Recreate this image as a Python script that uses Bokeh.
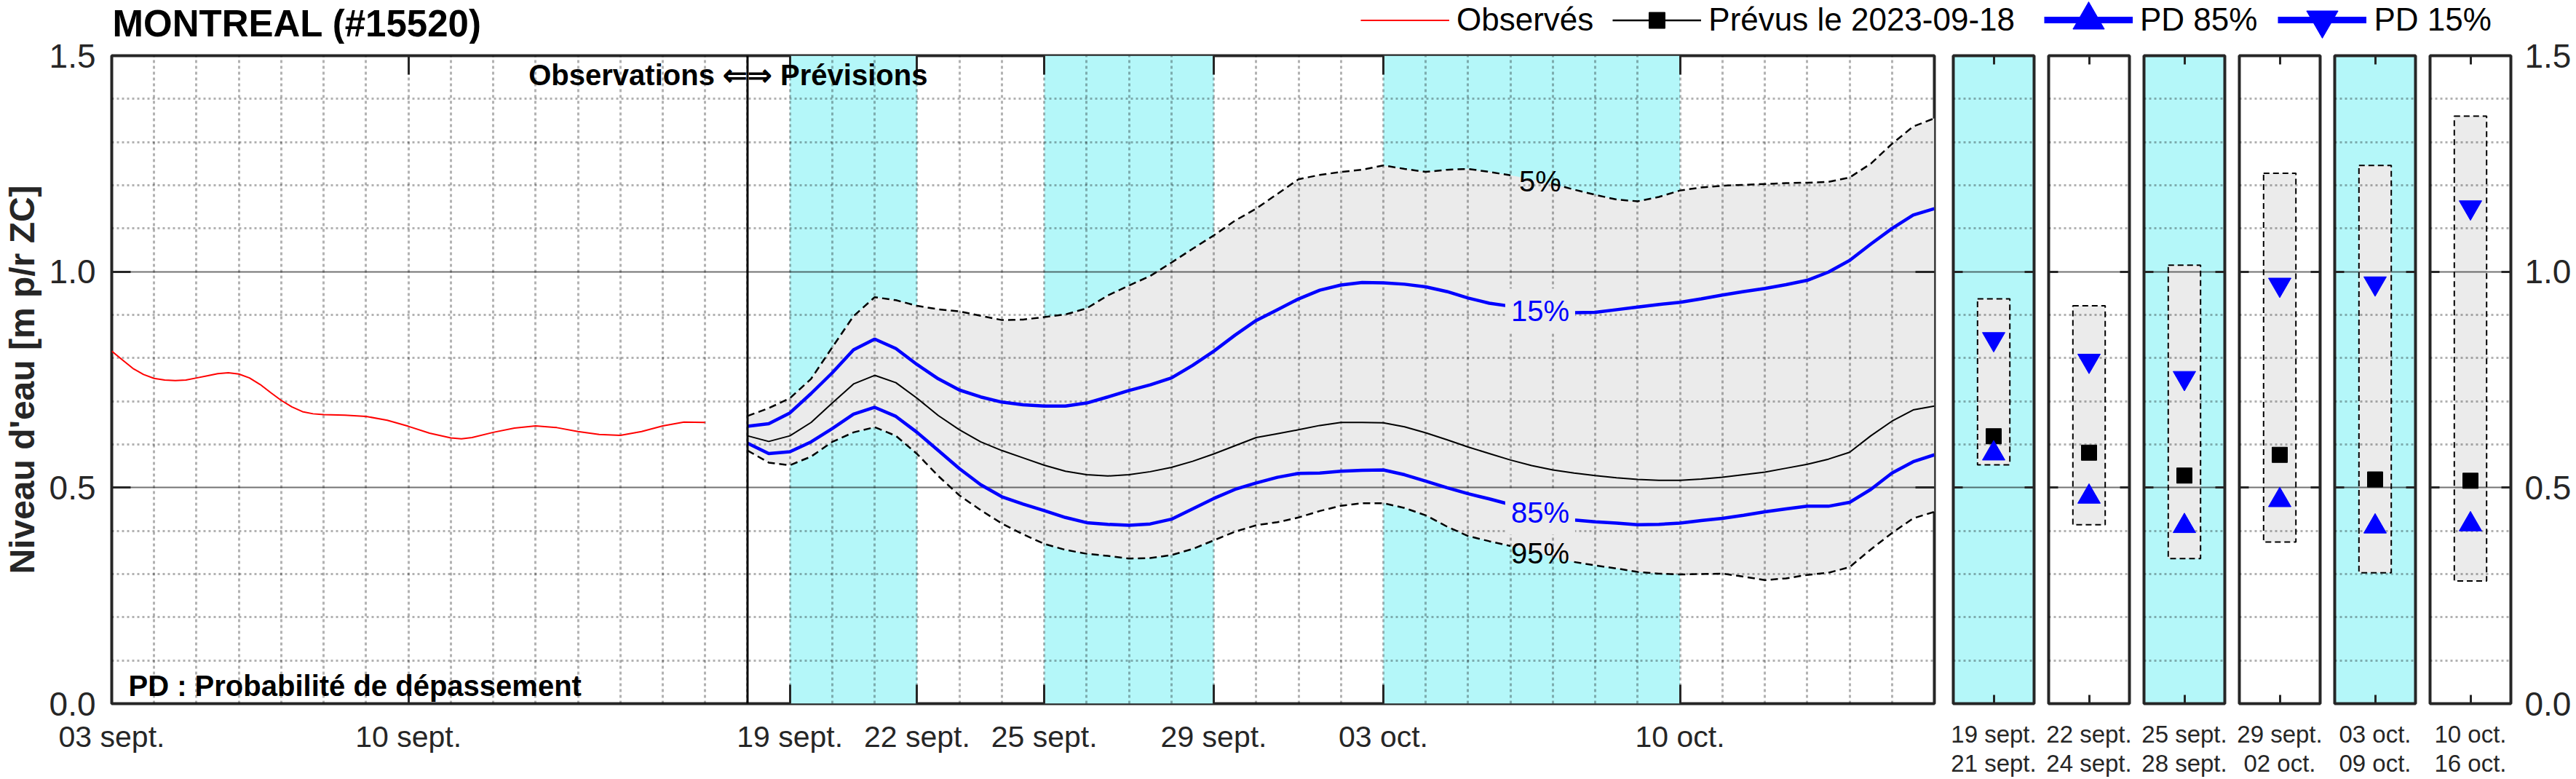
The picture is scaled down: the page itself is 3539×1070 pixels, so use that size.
import numpy as np
from bokeh.plotting import figure
from bokeh.layouts import row, column
from bokeh.models import (Range1d, LinearAxis, FixedTicker, Grid, Span, Label,
                          Legend, LegendItem, NumeralTickFormatter)
from bokeh.embed import file_html
from bokeh.resources import INLINE

# ------------------------------------------------------------------ data
title_text = "MONTREAL (#15520)"
y_axis_title = "Niveau d'eau [m p/r ZC]"
legend_labels = ["Observés", "Prévus le 2023-09-18", "PD 85%", "PD 15%"]
note_text = "PD : Probabilité de dépassement"
obs_text = "Observations \u21d0"
prev_text = "\u21d2 Prévisions"
curve_labels = ["5%", "15%", "85%", "95%"]

# x positions are days since 03 sept. 2023
x_first_day, x_last_day = 0, 43
forecast_start_day = 15
x_tick_days = [0, 7, 16, 19, 22, 26, 30, 37]
x_tick_labels = ["03 sept.", "10 sept.", "19 sept.", "22 sept.", "25 sept.",
                 "29 sept.", "03 oct.", "10 oct."]
day_grid = list(range(1, 43))

y_min, y_max = 0.0, 1.5
y_ticks = [0.0, 0.5, 1.0, 1.5]
y_major_grid = [0.5, 1.0]
y_minor_grid = [0.1, 0.2, 0.3, 0.4, 0.6, 0.7, 0.8, 0.9, 1.1, 1.2, 1.3, 1.4]

band_start_day = [16, 22, 30]
band_end_day = [19, 26, 37]

obs_days = [0, 0.25, 0.5, 0.75, 1.0, 1.25, 1.5, 1.75, 2.0, 2.25, 2.5, 2.75,
            3.0, 3.25, 3.5, 3.75, 4.0, 4.25, 4.5, 4.75, 5.0, 5.5, 6.0, 6.5,
            7.0, 7.5, 8.0, 8.25, 8.5, 9.0, 9.5, 10.0, 10.5, 11.0, 11.5, 12.0,
            12.5, 13.0, 13.5, 14.0]
obs_level = [0.816, 0.796, 0.776, 0.762, 0.753, 0.749, 0.748, 0.749, 0.754,
             0.759, 0.764, 0.766, 0.763, 0.754, 0.739, 0.720, 0.702, 0.687,
             0.676, 0.671, 0.669, 0.668, 0.665, 0.656, 0.642, 0.626, 0.615,
             0.613, 0.616, 0.628, 0.638, 0.643, 0.639, 0.630, 0.623, 0.621,
             0.630, 0.643, 0.652, 0.651]

fc_days = np.arange(15.0, 43.01, 0.5)
p05 = [0.666, 0.684, 0.707, 0.752, 0.825, 0.897, 0.941, 0.934, 0.921, 0.913,
       0.908, 0.898, 0.888, 0.889, 0.895, 0.901, 0.915, 0.945, 0.968, 0.990,
       1.021, 1.053, 1.084, 1.118, 1.146, 1.180, 1.214, 1.224, 1.231, 1.236,
       1.246, 1.238, 1.231, 1.236, 1.238, 1.231, 1.223, 1.214, 1.203, 1.190,
       1.178, 1.167, 1.163, 1.173, 1.188, 1.195, 1.199, 1.201, 1.203, 1.205,
       1.206, 1.208, 1.218, 1.250, 1.296, 1.336, 1.355]
p15 = [0.642, 0.648, 0.673, 0.718, 0.766, 0.819, 0.844, 0.822, 0.785, 0.752,
       0.726, 0.710, 0.698, 0.692, 0.689, 0.689, 0.696, 0.710, 0.725, 0.738,
       0.754, 0.783, 0.816, 0.853, 0.887, 0.912, 0.937, 0.957, 0.969, 0.975,
       0.974, 0.971, 0.965, 0.954, 0.939, 0.927, 0.920, 0.912, 0.907, 0.905,
       0.906, 0.912, 0.918, 0.924, 0.929, 0.937, 0.946, 0.954, 0.961, 0.970,
       0.980, 0.999, 1.026, 1.064, 1.100, 1.131, 1.146]
p50 = [0.620, 0.607, 0.620, 0.651, 0.696, 0.740, 0.760, 0.743, 0.707, 0.667,
       0.634, 0.606, 0.586, 0.569, 0.552, 0.538, 0.530, 0.527, 0.530, 0.537,
       0.547, 0.561, 0.578, 0.597, 0.616, 0.625, 0.634, 0.644, 0.651, 0.651,
       0.650, 0.641, 0.627, 0.611, 0.594, 0.579, 0.564, 0.551, 0.541, 0.534,
       0.528, 0.523, 0.519, 0.517, 0.517, 0.520, 0.524, 0.530, 0.536, 0.545,
       0.554, 0.566, 0.582, 0.620, 0.654, 0.680, 0.689]
p85 = [0.603, 0.579, 0.583, 0.606, 0.637, 0.670, 0.686, 0.665, 0.628, 0.586,
       0.544, 0.507, 0.479, 0.462, 0.447, 0.431, 0.419, 0.415, 0.413, 0.416,
       0.427, 0.451, 0.475, 0.496, 0.511, 0.524, 0.533, 0.534, 0.538, 0.540,
       0.541, 0.530, 0.515, 0.500, 0.486, 0.474, 0.461, 0.448, 0.434, 0.425,
       0.421, 0.418, 0.414, 0.415, 0.418, 0.424, 0.429, 0.436, 0.444, 0.451,
       0.457, 0.457, 0.466, 0.496, 0.534, 0.560, 0.576]
p95 = [0.586, 0.558, 0.552, 0.572, 0.606, 0.628, 0.640, 0.620, 0.578, 0.527,
       0.482, 0.448, 0.417, 0.392, 0.370, 0.356, 0.347, 0.342, 0.336, 0.337,
       0.344, 0.358, 0.378, 0.398, 0.413, 0.420, 0.431, 0.446, 0.458, 0.464,
       0.464, 0.453, 0.436, 0.410, 0.388, 0.376, 0.365, 0.354, 0.339, 0.328,
       0.320, 0.313, 0.305, 0.301, 0.299, 0.300, 0.301, 0.294, 0.286, 0.290,
       0.298, 0.303, 0.316, 0.357, 0.395, 0.429, 0.444]

curve_label_day = 33.7

panel_labels = ["19 sept.\n21 sept.", "22 sept.\n24 sept.", "25 sept.\n28 sept.",
                "29 sept.\n02 oct.", "03 oct.\n09 oct.", "10 oct.\n16 oct."]
panel_shaded = [True, False, True, False, True, False]
panel_p05 = [0.937, 0.921, 1.015, 1.228, 1.246, 1.360]
panel_p15 = [0.844, 0.794, 0.754, 0.970, 0.973, 1.149]
panel_p50 = [0.619, 0.581, 0.528, 0.576, 0.519, 0.516]
panel_p85 = [0.579, 0.479, 0.411, 0.471, 0.410, 0.415]
panel_p95 = [0.553, 0.414, 0.336, 0.374, 0.303, 0.284]

# ------------------------------------------------------------------ style
FONT = "Liberation Sans"
CYAN = "#b4f7f9"
GRAY_FILL = "#ebebeb"
INK = "#262626"
BLUE = "#0000ff"
RED = "#ff0000"

STRIP_H = 60
TOP_B, FRAME_H, BOT_B = 16, 890, 104
ROW_H = TOP_B + FRAME_H + BOT_B
MAIN_L, MAIN_FRAME, MAIN_R = 152, 2505, 10
PAN_L, PAN_FRAME, PAN_R, LAST_R = 16, 111, 4, 90
TOTAL_W = MAIN_L + MAIN_FRAME + MAIN_R + 5 * (PAN_L + PAN_FRAME + PAN_R) + PAN_L + PAN_FRAME + LAST_R
BOX_HALF = 0.2
PX_PER_UNIT = FRAME_H / (y_max - y_min)
LEGEND_MID = 33          # legend row centre, px above the strip bottom


def style_axis(ax, label_size=None, standoff=0, tick_in=0, ticks=None):
    ax.axis_line_color = None
    ax.major_tick_in = tick_in
    ax.major_tick_out = 0
    ax.major_tick_line_color = INK
    ax.major_tick_line_width = 3
    ax.minor_tick_line_color = None
    ax.major_label_text_font = FONT
    ax.major_label_text_color = INK
    if label_size:
        ax.major_label_text_font_size = label_size
        ax.major_label_standoff = standoff
    else:
        ax.major_label_text_font_size = "10px"
        ax.major_label_standoff = 0
        ax.major_label_overrides = {t: "" for t in ticks}


def add_hgrids(fig):
    fig.add_layout(Grid(dimension=1, ticker=FixedTicker(ticks=y_minor_grid),
                        grid_line_color="black", grid_line_alpha=0.3,
                        grid_line_width=3, grid_line_dash="3 4"))
    fig.add_layout(Grid(dimension=1, ticker=FixedTicker(ticks=y_major_grid),
                        grid_line_color="black", grid_line_alpha=0.55,
                        grid_line_width=2))


# ------------------------------------------------------------------ main plot
main = figure(width=MAIN_L + MAIN_FRAME + MAIN_R, height=ROW_H,
              x_range=Range1d(x_first_day, x_last_day), y_range=Range1d(y_min, y_max),
              x_axis_type=None, y_axis_type=None, output_backend="svg",
              toolbar_location=None, min_border_left=MAIN_L, min_border_right=MAIN_R,
              min_border_top=TOP_B, min_border_bottom=BOT_B)
main.outline_line_color = INK
main.outline_line_width = 4

main.quad(left=band_start_day, right=band_end_day, bottom=y_min, top=y_max,
          fill_color=CYAN, line_color=None, level="image")
main.varea(x=fc_days, y1=p95, y2=p05, fill_color=GRAY_FILL, level="image")

main.add_layout(Grid(dimension=0, ticker=FixedTicker(ticks=day_grid),
                     grid_line_color="black", grid_line_alpha=0.3,
                     grid_line_width=3, grid_line_dash="4 4"))
add_hgrids(main)

# dashed envelope lines are interrupted where their labels sit
p05_line = np.where((fc_days > 33.25) & (fc_days < 33.75), np.nan, p05)
p95_line = np.where((fc_days > 33.25) & (fc_days < 34.25), np.nan, p95)

main.line(obs_days, obs_level, line_color=RED, line_width=2)
main.line(fc_days, p05_line, line_color="black", line_width=2.5, line_dash="10 6")
main.line(fc_days, p95_line, line_color="black", line_width=2.5, line_dash="10 6")
main.line(fc_days, p50, line_color="black", line_width=2)
main.line(fc_days, p15, line_color=BLUE, line_width=4.5)
main.line(fc_days, p85, line_color=BLUE, line_width=4.5)

main.add_layout(Span(location=forecast_start_day, dimension="height",
                     line_color="black", line_width=3))

for txt, series, col, bg in zip(curve_labels, [p05, p15, p85, p95],
                                ["black", BLUE, BLUE, "black"],
                                [None, GRAY_FILL, GRAY_FILL, None]):
    yv = float(np.interp(curve_label_day, fc_days, series))
    main.add_layout(Label(x=curve_label_day, y=yv, text=txt, text_align="center",
                          text_baseline="middle", text_color=col, text_font=FONT,
                          text_font_size="40px", background_fill_color=bg,
                          padding=8))

main.add_layout(Label(x=forecast_start_day, y=1.455, text=obs_text, text_align="right",
                      text_baseline="middle", text_font=FONT, text_font_size="40px",
                      text_font_style="bold", text_color="black"))
main.add_layout(Label(x=forecast_start_day, y=1.455, text=prev_text, text_align="left",
                      text_baseline="middle", text_font=FONT, text_font_size="40px",
                      text_font_style="bold", text_color="black"))
main.add_layout(Label(x=x_first_day, y=y_min + 25 / PX_PER_UNIT, x_offset=23, text=note_text,
                      text_align="left", text_baseline="middle", text_font=FONT,
                      text_font_size="40px", text_font_style="bold", text_color="black"))

xb = LinearAxis(ticker=FixedTicker(ticks=x_tick_days),
                major_label_overrides=dict(zip(x_tick_days, x_tick_labels)))
style_axis(xb, "41px", 22, 26)
main.add_layout(xb, "below")
xa = LinearAxis(ticker=FixedTicker(ticks=x_tick_days))
style_axis(xa, None, 0, 26, x_tick_days)
main.add_layout(xa, "above")
yl = LinearAxis(ticker=FixedTicker(ticks=y_ticks), formatter=NumeralTickFormatter(format="0.0"),
                axis_label=y_axis_title)
style_axis(yl, "46px", 22, 26)
yl.axis_label_text_font = FONT
yl.axis_label_text_font_size = "48px"
yl.axis_label_text_font_style = "bold"
yl.axis_label_text_color = INK
yl.axis_label_standoff = 8
main.add_layout(yl, "left")
yr = LinearAxis(ticker=FixedTicker(ticks=y_ticks))
style_axis(yr, None, 0, 26, y_ticks)
main.add_layout(yr, "right")

# ------------------------------------------------------------------ period panels
panels = []
for i in range(6):
    last = i == 5
    rb = LAST_R if last else PAN_R
    pp = figure(width=PAN_L + PAN_FRAME + rb, height=ROW_H,
                x_range=Range1d(0, 1), y_range=Range1d(y_min, y_max),
                x_axis_type=None, y_axis_type=None, output_backend="svg",
                toolbar_location=None, min_border_left=PAN_L, min_border_right=rb,
                min_border_top=TOP_B, min_border_bottom=BOT_B)
    pp.background_fill_color = CYAN if panel_shaded[i] else "white"
    pp.outline_line_color = INK
    pp.outline_line_width = 4
    add_hgrids(pp)
    pp.quad(left=0.5 - BOX_HALF, right=0.5 + BOX_HALF, bottom=panel_p95[i], top=panel_p05[i],
            fill_color=GRAY_FILL, line_color=None, level="image")
    pp.quad(left=0.5 - BOX_HALF, right=0.5 + BOX_HALF, bottom=panel_p95[i], top=panel_p05[i],
            fill_color=None, line_color="black", line_width=2, line_dash="8 5")
    pp.scatter([0.5], [panel_p50[i]], marker="square", size=21, color="black")
    pp.scatter([0.5], [panel_p15[i]], marker="inverted_triangle", size=31, color=BLUE)
    pp.scatter([0.5], [panel_p85[i]], marker="triangle", size=31, color=BLUE)

    bx = LinearAxis(ticker=FixedTicker(ticks=[0.5]), major_label_overrides={0.5: panel_labels[i]})
    style_axis(bx, "33px", 23, 12)
    bx.major_label_text_line_height = 1.1
    pp.add_layout(bx, "below")
    ax = LinearAxis(ticker=FixedTicker(ticks=[0.5]))
    style_axis(ax, None, 0, 12, [0.5])
    pp.add_layout(ax, "above")
    la = LinearAxis(ticker=FixedTicker(ticks=y_ticks))
    style_axis(la, None, 0, 13, y_ticks)
    pp.add_layout(la, "left")
    ra = LinearAxis(ticker=FixedTicker(ticks=y_ticks), formatter=NumeralTickFormatter(format="0.0"))
    if last:
        style_axis(ra, "46px", 19, 13)
    else:
        style_axis(ra, None, 0, 13, y_ticks)
    pp.add_layout(ra, "right")
    panels.append(pp)

# ------------------------------------------------------------------ title + legend strip
strip = figure(width=TOTAL_W, height=STRIP_H, x_range=Range1d(0, TOTAL_W),
               y_range=Range1d(0, STRIP_H), x_axis_type=None, y_axis_type=None,
               output_backend="svg", toolbar_location=None, min_border=0)
strip.outline_line_color = None
strip.add_layout(Label(x=154, y=28.5, text=title_text, text_font=FONT, text_font_size="51px",
                       text_font_style="bold", text_baseline="middle", text_color="black"))

nan = [np.nan]
r_obs = strip.line(x=nan, y=nan, line_color=RED, line_width=2)
r_fc = strip.line(x=nan, y=nan, line_color="black", line_width=2.5)
r_fc_m = strip.scatter(x=nan, y=nan, marker="square", color="black")
r_85 = strip.line(x=nan, y=nan, line_color=BLUE, line_width=9)
r_85_m = strip.scatter(x=nan, y=nan, marker="triangle", color=BLUE)
r_15 = strip.line(x=nan, y=nan, line_color=BLUE, line_width=9)
r_15_m = strip.scatter(x=nan, y=nan, marker="inverted_triangle", color=BLUE)

common = dict(orientation="horizontal", glyph_width=122, label_standoff=10, padding=0,
              margin=0, border_line_color=None, background_fill_alpha=0,
              label_text_font=FONT, label_text_font_size="44px", label_text_color="black")
leg_a = Legend(items=[LegendItem(label=legend_labels[0], renderers=[r_obs]),
                      LegendItem(label=legend_labels[1], renderers=[r_fc, r_fc_m])],
               location=(1869, LEGEND_MID - 27.5), glyph_height=55, spacing=26, **common)
leg_b = Legend(items=[LegendItem(label=legend_labels[2], renderers=[r_85, r_85_m]),
                      LegendItem(label=legend_labels[3], renderers=[r_15, r_15_m])],
               location=(2808, LEGEND_MID - 54), glyph_height=108, spacing=28, **common)
strip.add_layout(leg_a)
strip.add_layout(leg_b)

layout = column(strip, row(main, *panels))
open("out.html", "w").write(file_html(layout, INLINE))
